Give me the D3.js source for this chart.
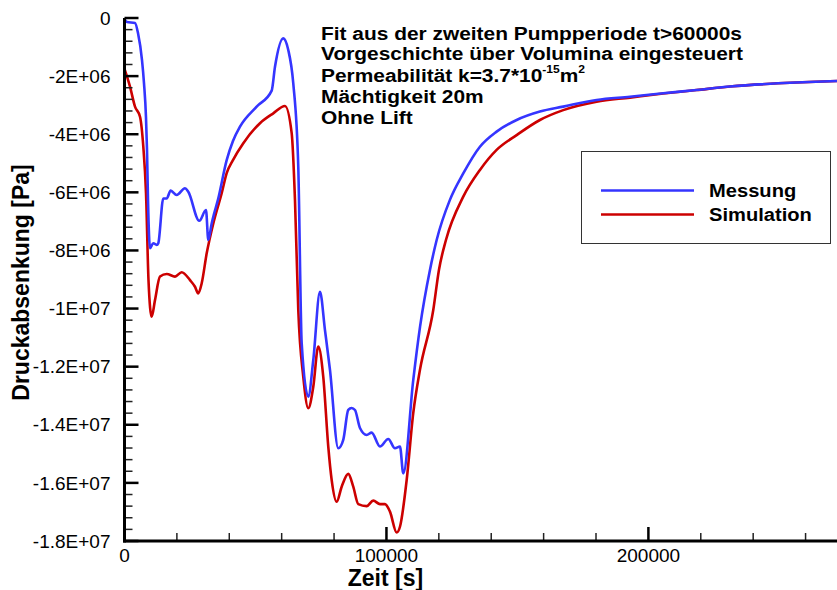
<!DOCTYPE html>
<html>
<head>
<meta charset="utf-8">
<script src="https://cdn.jsdelivr.net/npm/d3@7"></script>
<style>
  body { margin: 0; background: #fff; }
  svg text { font-family: "Liberation Sans", Arial, sans-serif; }
  .tick-label { font-size: 19px; fill: #000; }
  .axis-title { font-size: 23px; font-weight: bold; }
  .note { font-size: 19px; font-weight: bold; }
  .legend-text { font-size: 19px; font-weight: bold; }
</style>
</head>
<body>
<div id="chart-area"></div>
<script>
// Messung (gemessene Druckabsenkung)
var messungZeit = [0, 950, 4000, 5150, 6680, 7440, 8200, 8590, 8970, 9730, 10990, 12290, 12900,
  14810, 16110, 17630, 19920, 23090, 24350, 28550, 31110, 31990, 33280, 34160, 35690, 39010,
  41410, 44090, 50460, 56190, 57450, 60610, 62520, 64430, 66340, 67640, 70160, 72070, 74620, 76530,
  78440, 81610, 83510, 85420, 86720, 87980, 89890, 92450, 94350, 97520, 100690, 103250, 105160,
  106420, 110230, 112830, 116610, 119170, 124230, 129320, 135690, 142060, 149700, 158590,
  167490, 180230, 192950, 205660, 218410, 231120, 272000];
var messungDruck = [-0.03e6, -0.14e6, -0.17e6, -0.52e6, -1.45e6, -2.24e6, -3.41e6, -4.54e6, -6.26e6,
  -7.92e6, -7.75e6, -7.81e6, -7.75e6, -6.21e6, -6.21e6, -5.94e6, -6.09e6, -5.86e6, -5.98e6,
  -6.98e6, -6.61e6, -7.64e6, -7.07e6, -6.75e6, -6.25e6, -4.89e6, -4.23e6, -3.74e6, -3.05e6, -2.50e6,
  -1.68e6, -0.70e6, -1.10e6, -2.25e6, -5.12e6, -11.19e6, -13.03e6, -11.77e6, -9.42e6, -10.74e6,
  -12.11e6, -14.81e6, -14.52e6, -13.49e6, -13.42e6, -13.49e6, -14.11e6, -14.35e6, -14.27e6,
  -14.75e6, -14.49e6, -14.81e6, -14.75e6, -15.67e6, -12.46e6, -10.62e6, -8.67e6, -7.64e6,
  -6.26e6, -5.35e6, -4.43e6, -3.91e6, -3.51e6, -3.22e6, -3.05e6, -2.82e6, -2.71e6, -2.59e6,
  -2.48e6, -2.36e6, -2.17e6];

// Simulation
var simulationZeit = [0, 2100, 4010, 5920, 7180, 8210, 9160, 10380, 11640, 13550, 16110, 19280,
  21830, 25000, 26910, 28170, 29470, 31380, 33900, 37100, 39010, 41410, 45350, 51720, 56800, 61260,
  63820, 65080, 66340, 68250, 70160, 72070, 73970, 75880, 77790, 79090, 81000, 82910, 85420,
  87330, 89240, 92450, 94970, 97520, 99430, 101340, 103900, 105160, 107720, 110230, 112790,
  117870, 120040, 122720, 129320, 135690, 142060, 149700, 158590, 167490, 180230, 192950,
  205660, 218410, 231120, 272000];
var simulationDruck = [-1.75e6, -2.36e6, -3.05e6, -3.40e6, -4.43e6, -6.02e6, -9.02e6, -10.28e6,
  -9.71e6, -8.90e6, -8.81e6, -8.90e6, -8.75e6, -9.02e6, -9.25e6, -9.48e6, -9.13e6, -8.10e6,
  -7.07e6, -6.03e6, -5.34e6, -4.89e6, -4.31e6, -3.62e6, -3.28e6, -3.03e6, -3.96e6, -6.26e6, -10.05e6,
  -12.35e6, -13.43e6, -12.69e6, -11.31e6, -12.35e6, -14.75e6, -15.90e6, -16.65e6, -16.13e6,
  -15.69e6, -16.13e6, -16.73e6, -16.80e6, -16.61e6, -16.73e6, -16.73e6, -16.99e6, -17.71e6,
  -17.51e6, -15.90e6, -13.60e6, -12.11e6, -10.05e6, -8.67e6, -7.64e6, -6.15e6, -5.23e6,
  -4.54e6, -4.03e6, -3.51e6, -3.17e6, -2.88e6, -2.74e6, -2.60e6, -2.48e6, -2.36e6, -2.17e6];

var xTicks = [0, 100000, 200000];
var xTickLabels = ["0", "100000", "200000"];
var yTicks = [0, -2e6, -4e6, -6e6, -8e6, -1e7, -1.2e7, -1.4e7, -1.6e7, -1.8e7];
var yTickLabels = ["0", "-2E+06", "-4E+06", "-6E+06", "-8E+06", "-1E+07", "-1.2E+07", "-1.4E+07", "-1.6E+07", "-1.8E+07"];
var seriesNames = ["Messung", "Simulation"];
var seriesColors = ["#3535ff", "#cc0000"];

var width = 837, height = 590;
var plotLeft = 124.5, plotRight = 837, plotTop = 18, plotBottom = 541;

var svg = d3.select("#chart-area").append("svg")
    .attr("width", width)
    .attr("height", height);

var x = d3.scaleLinear().domain([0, 272000]).range([plotLeft, plotRight]);
var y = d3.scaleLinear().domain([0, -1.8e7]).range([plotTop, plotBottom]);

// minor ticks
var xMinor = d3.range(0, 272001, 20000).filter(function(d){ return d % 100000 !== 0; });
var yMinor = d3.range(0, 46).map(function(i){ return -i * 4e5; }).filter(function(d){ return Math.round(d) % 2000000 !== 0; });

svg.append("clipPath").attr("id", "clip")
  .append("rect").attr("x", plotLeft).attr("y", plotTop - 5)
  .attr("width", plotRight - plotLeft).attr("height", plotBottom - plotTop + 5);

// lines
var line = d3.line()
    .x(function(d){ return x(d[0]); })
    .y(function(d){ return y(d[1]); })
    .curve(d3.curveMonotoneX);

var messung = messungZeit.map(function(t, i){ return [t, messungDruck[i]]; });
var simulation = simulationZeit.map(function(t, i){ return [t, simulationDruck[i]]; });

svg.append("g").attr("clip-path", "url(#clip)")
  .selectAll("path")
  .data([simulation, messung])
  .enter().append("path")
    .attr("d", line)
    .attr("fill", "none")
    .attr("stroke", function(d, i){ return i === 0 ? seriesColors[1] : seriesColors[0]; })
    .attr("stroke-width", 2.6)
    .attr("stroke-linejoin", "round");

// y axis
var yAxis = svg.append("g");
yAxis.selectAll(".minor").data(yMinor).enter().append("line")
    .attr("x1", plotLeft).attr("x2", plotLeft + 8)
    .attr("y1", function(d){ return y(d); }).attr("y2", function(d){ return y(d); })
    .attr("stroke", "#222").attr("stroke-width", 1.5);
yAxis.selectAll(".major").data(yTicks).enter().append("line")
    .attr("x1", plotLeft).attr("x2", plotLeft + 14)
    .attr("y1", function(d){ return y(d); }).attr("y2", function(d){ return y(d); })
    .attr("stroke", "#000").attr("stroke-width", 2.5);
yAxis.selectAll("text").data(yTicks).enter().append("text")
    .attr("class", "tick-label")
    .attr("x", plotLeft - 14)
    .attr("y", function(d){ return y(d); })
    .attr("dy", "0.35em")
    .attr("text-anchor", "end")
    .text(function(d, i){ return yTickLabels[i]; });
yAxis.append("line")
    .attr("x1", plotLeft).attr("x2", plotLeft)
    .attr("y1", plotTop).attr("y2", plotBottom + 1.5)
    .attr("stroke", "#000").attr("stroke-width", 3);

// x axis
var xAxis = svg.append("g");
xAxis.selectAll(".minor").data(xMinor).enter().append("line")
    .attr("x1", function(d){ return x(d); }).attr("x2", function(d){ return x(d); })
    .attr("y1", plotBottom).attr("y2", plotBottom - 8)
    .attr("stroke", "#222").attr("stroke-width", 1.5);
xAxis.selectAll(".major").data(xTicks).enter().append("line")
    .attr("x1", function(d){ return x(d); }).attr("x2", function(d){ return x(d); })
    .attr("y1", plotBottom).attr("y2", plotBottom - 14)
    .attr("stroke", "#000").attr("stroke-width", 2.5);
xAxis.selectAll("text").data(xTicks).enter().append("text")
    .attr("class", "tick-label")
    .attr("x", function(d){ return x(d); })
    .attr("y", 562)
    .attr("text-anchor", "middle")
    .text(function(d, i){ return xTickLabels[i]; });
xAxis.append("line")
    .attr("x1", plotLeft - 1.5).attr("x2", plotRight)
    .attr("y1", plotBottom).attr("y2", plotBottom)
    .attr("stroke", "#000").attr("stroke-width", 3);

// axis titles
svg.append("text")
    .attr("class", "axis-title")
    .attr("x", x(100000) - 1)
    .attr("y", 586)
    .attr("text-anchor", "middle")
    .text("Zeit [s]");

svg.append("text")
    .attr("class", "axis-title")
    .attr("transform", "translate(29," + ((plotTop + plotBottom) / 2 + 3) + ") rotate(-90)")
    .attr("text-anchor", "middle")
    .text("Druckabsenkung [Pa]");

// annotation (text in the original is slightly stretched horizontally)
var note = svg.append("text").attr("class", "note")
    .attr("transform", "translate(321,0) scale(1.1,1)");
note.append("tspan").attr("x", 0).attr("y", 40).text("Fit aus der zweiten Pumpperiode t>60000s");
note.append("tspan").attr("x", 0).attr("y", 60).text("Vorgeschichte über Volumina eingesteuert");
note.append("tspan").attr("x", 0).attr("y", 82).text("Permeabilität k=3.7*10");
note.append("tspan").attr("dy", -9).style("font-size", "11px").text("-15");
note.append("tspan").attr("dy", 9).text("m");
note.append("tspan").attr("dy", -9).style("font-size", "11px").text("2");
note.append("tspan").attr("x", 0).attr("y", 103).text("Mächtigkeit 20m");
note.append("tspan").attr("x", 0).attr("y", 124).text("Ohne Lift");

// legend
var legend = svg.append("g");
legend.append("rect")
    .attr("x", 581.5).attr("y", 151.5)
    .attr("width", 249).attr("height", 92)
    .attr("fill", "#fff").attr("stroke", "#333").attr("stroke-width", 1);
legend.selectAll(".lg-line").data(seriesNames).enter().append("line")
    .attr("x1", 601).attr("x2", 694)
    .attr("y1", function(d, i){ return 190.5 + i * 24; })
    .attr("y2", function(d, i){ return 190.5 + i * 24; })
    .attr("stroke", function(d, i){ return seriesColors[i]; })
    .attr("stroke-width", 2.6);
legend.selectAll(".legend-text").data(seriesNames).enter().append("text")
    .attr("class", "legend-text")
    .attr("transform", function(d, i){ return "translate(709," + (197 + i * 24) + ") scale(1.06,1)"; })
    .text(function(d){ return d; });
</script>
</body>
</html>
